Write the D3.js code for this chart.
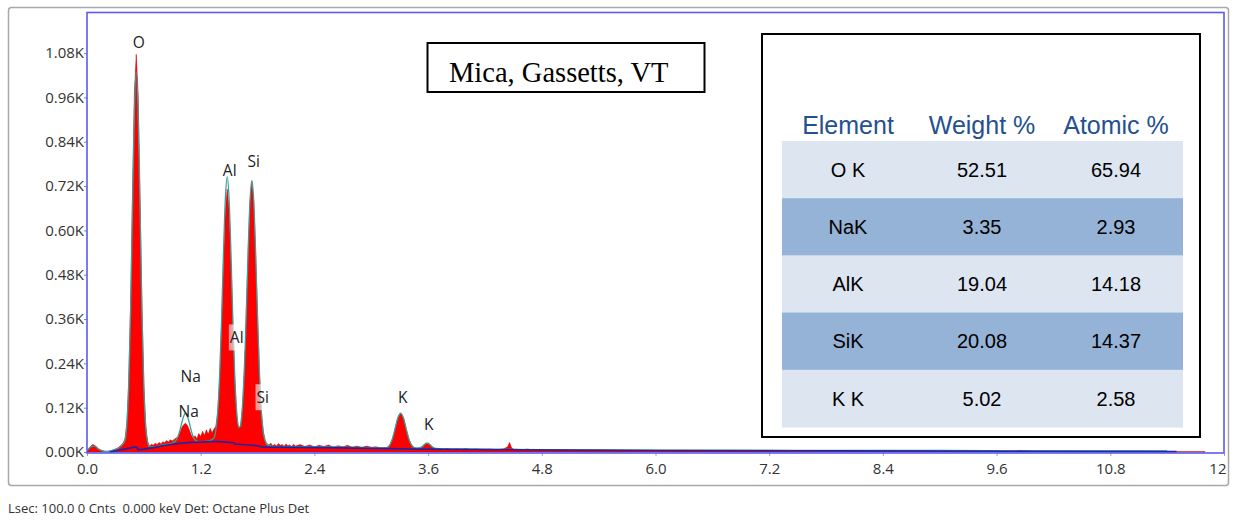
<!DOCTYPE html>
<html>
<head>
<meta charset="utf-8">
<script src="https://cdn.jsdelivr.net/npm/d3@7"></script>
<style>
  body { margin: 0; background: #fff; }
  svg { display: block; }
</style>
</head>
<body>
<svg id="chart" width="1236" height="520"></svg>
<script>
// measured spectrum, [keV, counts]
const spectrum = [
  [0.00, 2], [0.02, 10], [0.04, 16], [0.06, 20], [0.08, 18], [0.10, 14], [0.12, 9], [0.14, 6],
  [0.16, 4], [0.18, 3], [0.20, 2], [0.22, 2], [0.24, 3], [0.26, 4], [0.28, 6], [0.30, 8],
  [0.32, 10], [0.34, 14], [0.36, 18], [0.38, 24], [0.40, 35], [0.42, 75], [0.44, 188], [0.46, 400],
  [0.48, 697], [0.50, 975], [0.52, 1077], [0.54, 968], [0.56, 692], [0.58, 396], [0.60, 184], [0.62, 72],
  [0.64, 28], [0.66, 16], [0.68, 21], [0.70, 18], [0.72, 24], [0.74, 20], [0.76, 26], [0.78, 22],
  [0.80, 28], [0.82, 25], [0.84, 31], [0.86, 27], [0.88, 33], [0.90, 30], [0.92, 34], [0.94, 38],
  [0.96, 40], [0.98, 52], [1.00, 66], [1.02, 74], [1.04, 78], [1.06, 72], [1.08, 60], [1.10, 46],
  [1.12, 38], [1.14, 44], [1.16, 36], [1.18, 50], [1.20, 42], [1.22, 56], [1.24, 45], [1.26, 60],
  [1.28, 48], [1.30, 64], [1.32, 52], [1.34, 62], [1.36, 70], [1.38, 106], [1.40, 198], [1.42, 341],
  [1.44, 512], [1.46, 655], [1.48, 712], [1.50, 655], [1.52, 510], [1.54, 338], [1.56, 193], [1.58, 103],
  [1.60, 65], [1.62, 70], [1.64, 119], [1.66, 218], [1.68, 367], [1.70, 537], [1.72, 677], [1.74, 733],
  [1.76, 677], [1.78, 536], [1.80, 364], [1.82, 214], [1.84, 108], [1.86, 56], [1.88, 32], [1.90, 22],
  [1.92, 19], [1.94, 24], [1.96, 17], [1.98, 21], [2.00, 16], [2.02, 23], [2.04, 18], [2.06, 20],
  [2.08, 15], [2.10, 22], [2.12, 17], [2.14, 19], [2.16, 14], [2.18, 21], [2.20, 16], [2.25, 20],
  [2.30, 15], [2.35, 19], [2.40, 14], [2.45, 18], [2.50, 15], [2.55, 19], [2.60, 13], [2.65, 17],
  [2.70, 14], [2.75, 18], [2.80, 13], [2.85, 16], [2.90, 12], [2.95, 16], [3.00, 13], [3.05, 14],
  [3.10, 11], [3.14, 12], [3.16, 12], [3.18, 14], [3.20, 21], [3.22, 33], [3.24, 51], [3.26, 72],
  [3.28, 92], [3.30, 101], [3.31, 105], [3.32, 101], [3.34, 92], [3.36, 72], [3.38, 51], [3.40, 33],
  [3.42, 21], [3.44, 14], [3.46, 12], [3.48, 9], [3.50, 11], [3.52, 12], [3.54, 15], [3.56, 19],
  [3.58, 23], [3.60, 22], [3.62, 19], [3.64, 14], [3.66, 11], [3.68, 8], [3.70, 10], [3.75, 7],
  [3.80, 9], [3.85, 6], [3.90, 8], [3.95, 7], [4.00, 9], [4.05, 6], [4.10, 8], [4.15, 7],
  [4.20, 6], [4.25, 8], [4.30, 6], [4.35, 7], [4.40, 9], [4.44, 14], [4.46, 26], [4.48, 12],
  [4.50, 8], [4.55, 7], [4.60, 6], [4.65, 8], [4.70, 5], [4.75, 7], [4.80, 5], [4.90, 6],
  [5.00, 5], [5.20, 4], [5.40, 5], [5.60, 4], [5.80, 4], [6.00, 3], [6.50, 3], [7.00, 3],
  [7.50, 2], [8.00, 2], [9.00, 2], [10.00, 1], [11.00, 1], [11.80, 1]
];

// fitted spectrum (teal)
const fitLine = [
  [0.00, 3], [0.04, 14], [0.08, 16], [0.12, 8], [0.16, 3], [0.20, 1], [0.24, 2], [0.28, 5],
  [0.32, 9], [0.36, 16], [0.38, 22], [0.40, 30], [0.42, 72], [0.44, 180], [0.46, 378], [0.48, 659],
  [0.50, 921], [0.52, 1030], [0.54, 918], [0.56, 652], [0.58, 374], [0.60, 174], [0.62, 66], [0.64, 26],
  [0.66, 14], [0.70, 14], [0.80, 19], [0.90, 24], [0.92, 27], [0.94, 32], [0.96, 42], [0.98, 58],
  [1.00, 79], [1.02, 97], [1.04, 105], [1.06, 97], [1.08, 79], [1.10, 58], [1.12, 42], [1.14, 33],
  [1.16, 29], [1.20, 28], [1.26, 29], [1.30, 31], [1.34, 38], [1.36, 60], [1.38, 110], [1.40, 207],
  [1.42, 356], [1.44, 535], [1.46, 685], [1.48, 745], [1.50, 683], [1.52, 533], [1.54, 350], [1.56, 202],
  [1.58, 107], [1.60, 67], [1.62, 70], [1.64, 120], [1.66, 219], [1.68, 368], [1.70, 538], [1.72, 679],
  [1.74, 735], [1.76, 679], [1.78, 536], [1.80, 364], [1.82, 214], [1.84, 108], [1.86, 54], [1.88, 30],
  [1.90, 20], [1.95, 16], [2.00, 15], [2.50, 14], [3.00, 12], [3.10, 11], [3.14, 11], [3.16, 11],
  [3.18, 14], [3.20, 21], [3.22, 33], [3.24, 51], [3.26, 72], [3.28, 92], [3.30, 103], [3.31, 105],
  [3.32, 103], [3.34, 92], [3.36, 72], [3.38, 51], [3.40, 33], [3.42, 21], [3.44, 14], [3.46, 11],
  [3.50, 11], [3.54, 15], [3.56, 20], [3.58, 24], [3.60, 24], [3.62, 20], [3.64, 15], [3.68, 10],
  [3.80, 8], [4.50, 7], [5.00, 6], [6.00, 5], [7.00, 5], [8.00, 4], [9.00, 4], [10.00, 3],
  [11.00, 3], [11.40, 3]
];

// continuum background (dark blue)
const background = [
  [0.24, 0], [0.26, 1], [0.30, 3], [0.34, 5], [0.40, 8], [0.46, 11], [0.50, 13], [0.52, 14],
  [0.54, 6], [0.60, 8], [0.70, 12], [0.80, 17], [0.90, 21], [1.00, 24], [1.10, 26], [1.20, 27],
  [1.30, 28], [1.40, 28], [1.50, 26], [1.55, 25], [1.56, 21], [1.60, 21], [1.70, 19], [1.80, 17],
  [1.84, 14], [1.90, 13], [2.00, 13], [2.50, 12], [3.00, 10], [3.50, 8], [4.00, 7], [5.00, 5],
  [6.00, 4], [8.00, 3], [10.00, 2], [11.50, 1]
];

// peak labels: [keV, counts at baseline, text, highlighted]
const peakLabels = [
  [0.546, 1095, "O", false],
  [1.506, 747, "Al", false],
  [1.760, 771, "Si", false],
  [1.580, 294, "Al", true],
  [1.094, 189, "Na", false],
  [1.073, 94, "Na", false],
  [1.855, 132, "Si", true],
  [3.332, 132, "K", false],
  [3.607, 59, "K", false]
];

const xTicks = [0, 1.2, 2.4, 3.6, 4.8, 6.0, 7.2, 8.4, 9.6, 10.8, 12];
const yTicks = [0, 120, 240, 360, 480, 600, 720, 840, 960, 1080];

const tableHeader = ["Element", "Weight %", "Atomic %"];
const tableElements = ["O K", "NaK", "AlK", "SiK", "K K"];
const weightPct = ["52.51", "3.35", "19.04", "20.08", "5.02"];
const atomicPct = ["65.94", "2.93", "14.18", "14.37", "2.58"];

const title = "Mica, Gassetts, VT";
const statusText = "Lsec: 100.0 0 Cnts  0.000 keV Det: Octane Plus Det";

const svg = d3.select("#chart");
const plot = { left: 87, right: 1224, top: 12.5, bottom: 453 };

const x = d3.scaleLinear().domain([0, 12]).range([plot.left, plot.right]);
const y = d3.scaleLinear().domain([0, 1190]).range([452, plot.top]);

// outer panel
svg.append("rect")
  .attr("x", 8.5).attr("y", 7.5)
  .attr("width", 1220).attr("height", 478)
  .attr("rx", 3)
  .attr("fill", "#fff")
  .attr("stroke", "#a8a8a8")
  .attr("stroke-width", 1.5);

svg.append("clipPath").attr("id", "plotclip")
  .append("rect")
  .attr("x", plot.left).attr("y", plot.top)
  .attr("width", plot.right - plot.left).attr("height", plot.bottom - plot.top);

const g = svg.append("g").attr("clip-path", "url(#plotclip)");

const area = d3.area()
  .x(d => x(d[0]))
  .y0(y(0))
  .y1(d => y(d[1]));

g.append("path")
  .datum(spectrum)
  .attr("d", area)
  .attr("fill", "#ff0000")
  .attr("stroke", "#c00000")
  .attr("stroke-width", 0.5);

g.append("path")
  .datum(fitLine)
  .attr("d", d3.line().x(d => x(d[0])).y(d => y(d[1])).curve(d3.curveMonotoneX))
  .attr("fill", "none")
  .attr("stroke", "#3a9e99")
  .attr("stroke-width", 1.3);

g.append("path")
  .datum(background)
  .attr("d", d3.line().x(d => x(d[0])).y(d => y(d[1])))
  .attr("fill", "none")
  .attr("stroke", "#2424a0")
  .attr("stroke-width", 1.7);

// peak labels
const labelFont = "'Open Sans', 'DejaVu Sans', sans-serif";
const lbl = svg.append("g");
peakLabels.forEach(p => {
  const t = lbl.append("text")
    .attr("x", x(p[0]))
    .attr("y", y(p[1]))
    .attr("text-anchor", "middle")
    .attr("font-family", labelFont)
    .attr("font-size", 15.5)
    .attr("fill", "#222")
    .text(p[2]);
  if (p[3]) {
    const bb = t.node().getBBox();
    lbl.insert("rect", "text")
      .attr("x", bb.x - 1).attr("y", bb.y - 2)
      .attr("width", bb.width + 2).attr("height", bb.height + 4)
      .attr("fill", "rgba(255,255,255,0.6)");
  }
});

// axes
const axisFont = "'Open Sans', 'DejaVu Sans', sans-serif";
const yAxis = svg.append("g")
  .attr("transform", `translate(${plot.left},0)`)
  .call(d3.axisLeft(y).tickValues(yTicks).tickSize(3)
    .tickFormat(d => (d / 1000).toFixed(2) + "K"));
yAxis.select(".domain").remove();
yAxis.selectAll("line").attr("stroke", "#888");
yAxis.selectAll("text")
  .attr("font-family", axisFont).attr("font-size", 15).attr("fill", "#333").attr("x", -3);

const xAxis = svg.append("g")
  .attr("transform", `translate(0,${plot.bottom})`)
  .call(d3.axisBottom(x).tickValues(xTicks).tickSize(3)
    .tickFormat(d => d === 12 ? "12" : d.toFixed(1)));
xAxis.select(".domain").remove();
xAxis.selectAll("line").attr("stroke", "#9a9af0");
xAxis.selectAll("text")
  .attr("font-family", axisFont).attr("font-size", 15).attr("fill", "#333").attr("dy", "1.0em");
xAxis.selectAll(".tick").filter(d => d === 12).select("text")
  .attr("text-anchor", "end").attr("x", 2);

// plot frame
svg.append("rect")
  .attr("x", plot.left).attr("y", plot.top)
  .attr("width", plot.right - plot.left).attr("height", plot.bottom - plot.top)
  .attr("fill", "none")
  .attr("stroke", "#5b5bef")
  .attr("stroke-width", 1.6);

// title box
svg.append("rect")
  .attr("x", 427.5).attr("y", 43)
  .attr("width", 277).attr("height", 49)
  .attr("fill", "#fff").attr("stroke", "#000").attr("stroke-width", 2);
svg.append("text")
  .attr("x", 449).attr("y", 82)
  .attr("font-family", "'Liberation Serif', 'Times New Roman', serif")
  .attr("font-size", 28.5)
  .attr("fill", "#000")
  .text(title);

// composition table
svg.append("rect")
  .attr("x", 762).attr("y", 34)
  .attr("width", 438).attr("height", 403)
  .attr("fill", "#fff").attr("stroke", "#000").attr("stroke-width", 2);

const colX = [848, 982, 1116];
const rowTop = 141, rowH = 57.2;
const tableFont = "'Liberation Sans', Arial, sans-serif";

svg.append("g").selectAll("text")
  .data(tableHeader)
  .join("text")
  .attr("x", (d, i) => colX[i])
  .attr("y", 134)
  .attr("text-anchor", "middle")
  .attr("font-family", tableFont)
  .attr("font-size", 25)
  .attr("fill", "#24508f")
  .text(d => d);

const rows = svg.append("g").selectAll("g")
  .data(tableElements)
  .join("g")
  .attr("transform", (d, i) => `translate(0,${rowTop + i * rowH})`);

rows.append("rect")
  .attr("x", 782).attr("width", 401).attr("height", rowH + 0.5)
  .attr("fill", (d, i) => i % 2 ? "#95b3d7" : "#dce5f0");

rows.each(function (d, i) {
  const cells = [tableElements[i], weightPct[i], atomicPct[i]];
  d3.select(this).selectAll("text")
    .data(cells)
    .join("text")
    .attr("x", (c, j) => colX[j])
    .attr("y", rowH / 2)
    .attr("dy", "0.36em")
    .attr("text-anchor", "middle")
    .attr("font-family", tableFont)
    .attr("font-size", 20)
    .attr("fill", "#000")
    .text(c => c);
});

// status line
svg.append("text")
  .attr("x", 8).attr("y", 513)
  .attr("font-family", axisFont)
  .attr("font-size", 13)
  .attr("fill", "#333")
  .attr("xml:space", "preserve")
  .style("white-space", "pre")
  .text(statusText);
</script>
</body>
</html>
